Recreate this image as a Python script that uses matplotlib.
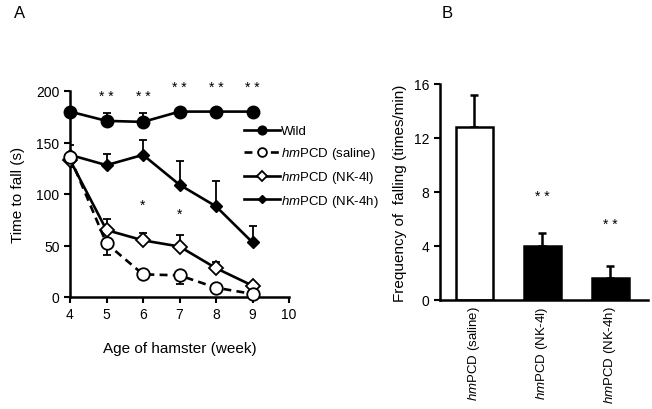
import matplotlib
matplotlib.use("Agg")
import matplotlib.pyplot as plt

plt.rcParams['font.family'] = ['Liberation Sans', 'DejaVu Sans']
plt.rcParams['mathtext.fontset'] = 'custom'
plt.rcParams['mathtext.it'] = 'Liberation Sans:italic'
plt.rcParams['mathtext.rm'] = 'Liberation Sans'

# panel A data
weeks = [4, 5, 6, 7, 8, 9]
wild = [180, 171, 170, 180, 180, 180]
wild_err = [0, 8, 9, 0, 0, 0]
saline = [136, 52, 22, 21, 9, 3]
saline_err = [10, 11, 5, 8, 4, 2]
nk4l = [133, 65, 55, 49, 28, 11]
nk4l_err = [8, 11, 7, 11, 6, 3]
nk4h = [138, 128, 138, 109, 88, 53]
nk4h_err = [10, 11, 14, 23, 25, 16]
labels_a = ["Wild", r"$\it{hm}$PCD (saline)", r"$\it{hm}$PCD (NK-4l)", r"$\it{hm}$PCD (NK-4h)"]
stars_a = [(5, 195, "* *"), (6, 195, "* *"), (7, 204, "* *"), (8, 204, "* *"), (9, 204, "* *"),
           (6, 90, "*"), (7, 81, "*")]

# panel B data
groups = [r"$\it{hm}$PCD (saline)", r"$\it{hm}$PCD (NK-4l)", r"$\it{hm}$PCD (NK-4h)"]
freq = [12.8, 4.0, 1.6]
freq_err = [2.4, 1.0, 0.9]
stars_b = [(1, 7.7, "* *"), (2, 5.6, "* *")]

fig = plt.figure(figsize=(6.52, 4.10), dpi=100)
ax = fig.add_axes([70 / 652, 1 - 298 / 410, 219 / 652, 206 / 410])
bx = fig.add_axes([440 / 652, 1 - 301 / 410, 208 / 652, 216 / 410])

lw = 1.9
ax.errorbar(weeks, saline, yerr=[saline_err, [0] * 6], fmt='none', ecolor='black',
            elinewidth=1.3, capsize=3, capthick=1.3, zorder=2)
for vals, err in [(wild, wild_err), (nk4l, nk4l_err), (nk4h, nk4h_err)]:
    ax.errorbar(weeks, vals, yerr=[[0] * 6, err], fmt='none', ecolor='black',
                elinewidth=1.3, capsize=3, capthick=1.3, zorder=2)

h1, = ax.plot(weeks, wild, '-o', color='black', lw=lw, ms=9, mfc='black', zorder=4)
h2, = ax.plot(weeks, saline, '--o', color='black', lw=lw, ms=9, mfc='white', mew=1.3,
              dashes=(3, 2), zorder=4)
h3, = ax.plot(weeks, nk4l, '-D', color='black', lw=lw, ms=7, mfc='white', mew=1.3, zorder=3)
h4, = ax.plot(weeks, nk4h, '-D', color='black', lw=lw, ms=6, mfc='black', zorder=3)

for x, y, s in stars_a:
    ax.text(x, y, s, ha='center', va='center', fontsize=10)

ax.set_xlim(4, 10)
ax.set_ylim(0, 200)
ax.set_xticks([4, 5, 6, 7, 8, 9, 10])
ax.set_yticks([0, 50, 100, 150, 200])
ax.spines['top'].set_visible(False)
ax.spines['right'].set_visible(False)
for sp in ax.spines.values():
    sp.set_linewidth(1.8)
ax.tick_params(width=1.5, length=4, labelsize=10)
ax.set_ylabel("Time to fall (s)", fontsize=11, labelpad=8)
ax.set_xlabel("Age of hamster (week)", fontsize=11, labelpad=14)
for h in (h1, h2, h3, h4):
    h.set_clip_on(False)

leg = ax.legend([h1, h2, h3, h4], labels_a, loc='upper left', bbox_to_anchor=(0.77, 0.86),
                frameon=False, fontsize=9.5, handlelength=2.7, handletextpad=0.1,
                labelspacing=0.6, borderaxespad=0, markerscale=0.7)

xpos = list(range(len(groups)))
colors = ['white', 'black', 'black']
bx.bar(xpos, freq, width=0.54, color=colors, edgecolor='black', linewidth=1.8, zorder=2)
bx.errorbar(xpos, freq, yerr=[[0] * 3, freq_err], fmt='none', ecolor='black',
            elinewidth=1.8, capsize=3, capthick=1.8, zorder=1)
for x, y, s in stars_b:
    bx.text(x, y, s, ha='center', va='center', fontsize=10)
bx.set_xlim(-0.5, 2.55)
bx.set_ylim(0, 16)
bx.set_yticks([0, 4, 8, 12, 16])
bx.set_xticks(xpos)
bx.set_xticklabels(groups, rotation=90, fontsize=9.5)
bx.spines['top'].set_visible(False)
bx.spines['right'].set_visible(False)
for sp in bx.spines.values():
    sp.set_linewidth(1.8)
bx.tick_params(axis='y', width=1.5, length=4, labelsize=10)
bx.tick_params(axis='x', length=0, pad=4)
bx.set_ylabel("Frequency of  falling (times/min)", fontsize=11, labelpad=5)

fig.text(14 / 652, 1 - 13 / 410, "A", fontsize=12, va='center')
fig.text(442 / 652, 1 - 13 / 410, "B", fontsize=12, va='center')

fig.savefig("out.png", dpi=100)
